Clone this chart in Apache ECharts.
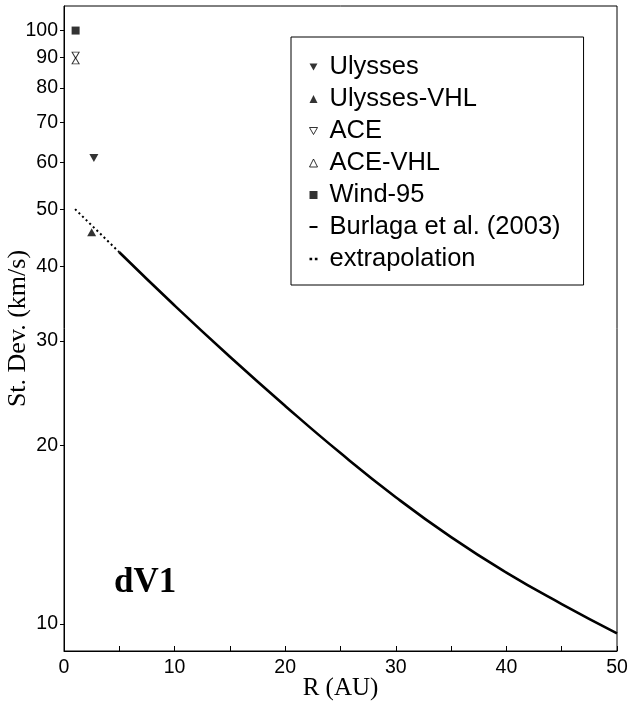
<!DOCTYPE html>
<html style="height: 100%">
<head>
<meta charset="utf-8">
<script src="https://cdn.jsdelivr.net/npm/echarts@6/dist/echarts.min.js"></script>
</head>
<body style="height: 100%; margin: 0; background: #fff">
<div id="container" style="width: 628px; height: 706px"></div>
<script type="text/javascript">
// point measurements, [R (AU), st. dev. (km/s)]
var ulysses = [[2.7, 61]];
var ulyssesVHL = [[2.5, 45.7]];
var ace = [[1.05, 90.9]];
var aceVHL = [[1.05, 88.9]];
var wind95 = [[1.05, 100]];
// Burlaga et al. (2003) fit
var burlagaR = [5, 10, 15, 20, 25, 30, 35, 40, 45, 50];
var burlagaV = [42.3, 34.4, 28.2, 23.3, 19.4, 16.35, 14.0, 12.2, 10.8, 9.64];
var extrapR = [1, 5];
var extrapV = [50, 42.3];
var yTicks = [10, 20, 30, 40, 50, 60, 70, 80, 90, 100];

var SANS = '"Liberation Sans", Arial, Helvetica, sans-serif';
var SERIF = '"Liberation Serif", "Times New Roman", serif';
var downTri = 'path://M0,0L8,0L4,7Z';
var dash = 'path://M0,0L8,0L8,2L0,2Z';
var dots = 'path://M0,0h2v2h-2zM4,0h2v2h-2z';

function pairs(xs, ys) {
    return xs.map(function (x, i) { return [x, ys[i]]; });
}

var dom = document.getElementById('container');
var myChart = echarts.init(dom, null, { renderer: 'canvas' });
var option = {
    animation: false,
    backgroundColor: '#fff',
    title: {
        text: 'dV1',
        left: 114,
        top: 565,
        padding: 0,
        textStyle: { fontFamily: SERIF, fontWeight: 'bold', fontSize: 35, color: '#000' }
    },
    grid: {
        left: 64, right: 11, top: 6, bottom: 55,
        outerBoundsMode: 'none',
        containLabel: false,
        show: true, borderColor: '#000', borderWidth: 1
    },
    legend: {
        orient: 'vertical',
        left: 291,
        top: 37,
        padding: [17, 23, 13, 18],
        itemGap: 6,
        itemWidth: 8,
        itemHeight: 8,
        borderColor: '#000',
        borderWidth: 1,
        backgroundColor: '#fff',
        textStyle: { fontFamily: SANS, fontSize: 25.5, color: '#000', lineHeight: 26, padding: [0, 0, 0, 7] },
        data: [
            { name: 'Ulysses', icon: downTri },
            { name: 'Ulysses-VHL', icon: 'triangle' },
            { name: 'ACE', icon: downTri, itemStyle: { color: '#fff', borderColor: '#000', borderWidth: 1 } },
            { name: 'ACE-VHL', icon: 'triangle', itemStyle: { color: '#fff', borderColor: '#000', borderWidth: 1 } },
            { name: 'Wind-95', icon: 'rect' },
            { name: 'Burlaga et al. (2003)', icon: dash },
            { name: 'extrapolation', icon: dots }
        ]
    },
    xAxis: {
        type: 'value',
        min: 0, max: 50, interval: 5,
        name: 'R (AU)',
        nameLocation: 'middle',
        nameGap: 25,
        nameMoveOverlap: false,
        nameTextStyle: { fontFamily: SERIF, fontSize: 25, color: '#000' },
        axisLine: { lineStyle: { color: '#000', width: 1 } },
        axisTick: { inside: true, length: 5, lineStyle: { color: '#000' } },
        axisLabel: {
            margin: 7, fontFamily: SANS, fontSize: 19.5, color: '#000',
            formatter: function (v) { return v % 10 === 0 ? v : ''; }
        },
        splitLine: { show: false }
    },
    yAxis: {
        type: 'log',
        logBase: 10,
        min: 9, max: 110,
        name: 'St. Dev. (km/s)',
        nameLocation: 'middle',
        nameGap: 33,
        nameMoveOverlap: false,
        nameTextStyle: { fontFamily: SERIF, fontSize: 26, color: '#000' },
        axisLine: { show: true, lineStyle: { color: '#000', width: 1 } },
        axisTick: { show: true, length: 4, customValues: yTicks, lineStyle: { color: '#000' } },
        axisLabel: { margin: 6, fontFamily: SANS, fontSize: 19.5, color: '#000', customValues: yTicks },
        splitLine: { show: false },
        minorTick: { show: false }
    },
    series: [
        { name: 'Ulysses', type: 'scatter', symbol: downTri, symbolSize: [9, 8],
          itemStyle: { color: '#000' }, data: ulysses },
        { name: 'Ulysses-VHL', type: 'scatter', symbol: 'triangle', symbolSize: [9, 8],
          itemStyle: { color: '#000' }, data: ulyssesVHL },
        { name: 'ACE', type: 'scatter', symbol: downTri, symbolSize: [7, 6],
          itemStyle: { color: '#fff', borderColor: '#000', borderWidth: 1 }, data: ace },
        { name: 'ACE-VHL', type: 'scatter', symbol: 'triangle', symbolSize: [7, 6],
          itemStyle: { color: '#fff', borderColor: '#000', borderWidth: 1 }, data: aceVHL },
        { name: 'Wind-95', type: 'scatter', symbol: 'rect', symbolSize: 8,
          itemStyle: { color: '#000' }, data: wind95 },
        { name: 'Burlaga et al. (2003)', type: 'line', smooth: true, showSymbol: false,
          lineStyle: { color: '#000', width: 2.6 }, itemStyle: { color: '#000' },
          data: pairs(burlagaR, burlagaV) },
        { name: 'extrapolation', type: 'line', showSymbol: false,
          lineStyle: { color: '#000', width: 2, type: [2, 3] }, itemStyle: { color: '#000' },
          data: pairs(extrapR, extrapV) }
    ]
};
myChart.setOption(option);
</script>
</body>
</html>
